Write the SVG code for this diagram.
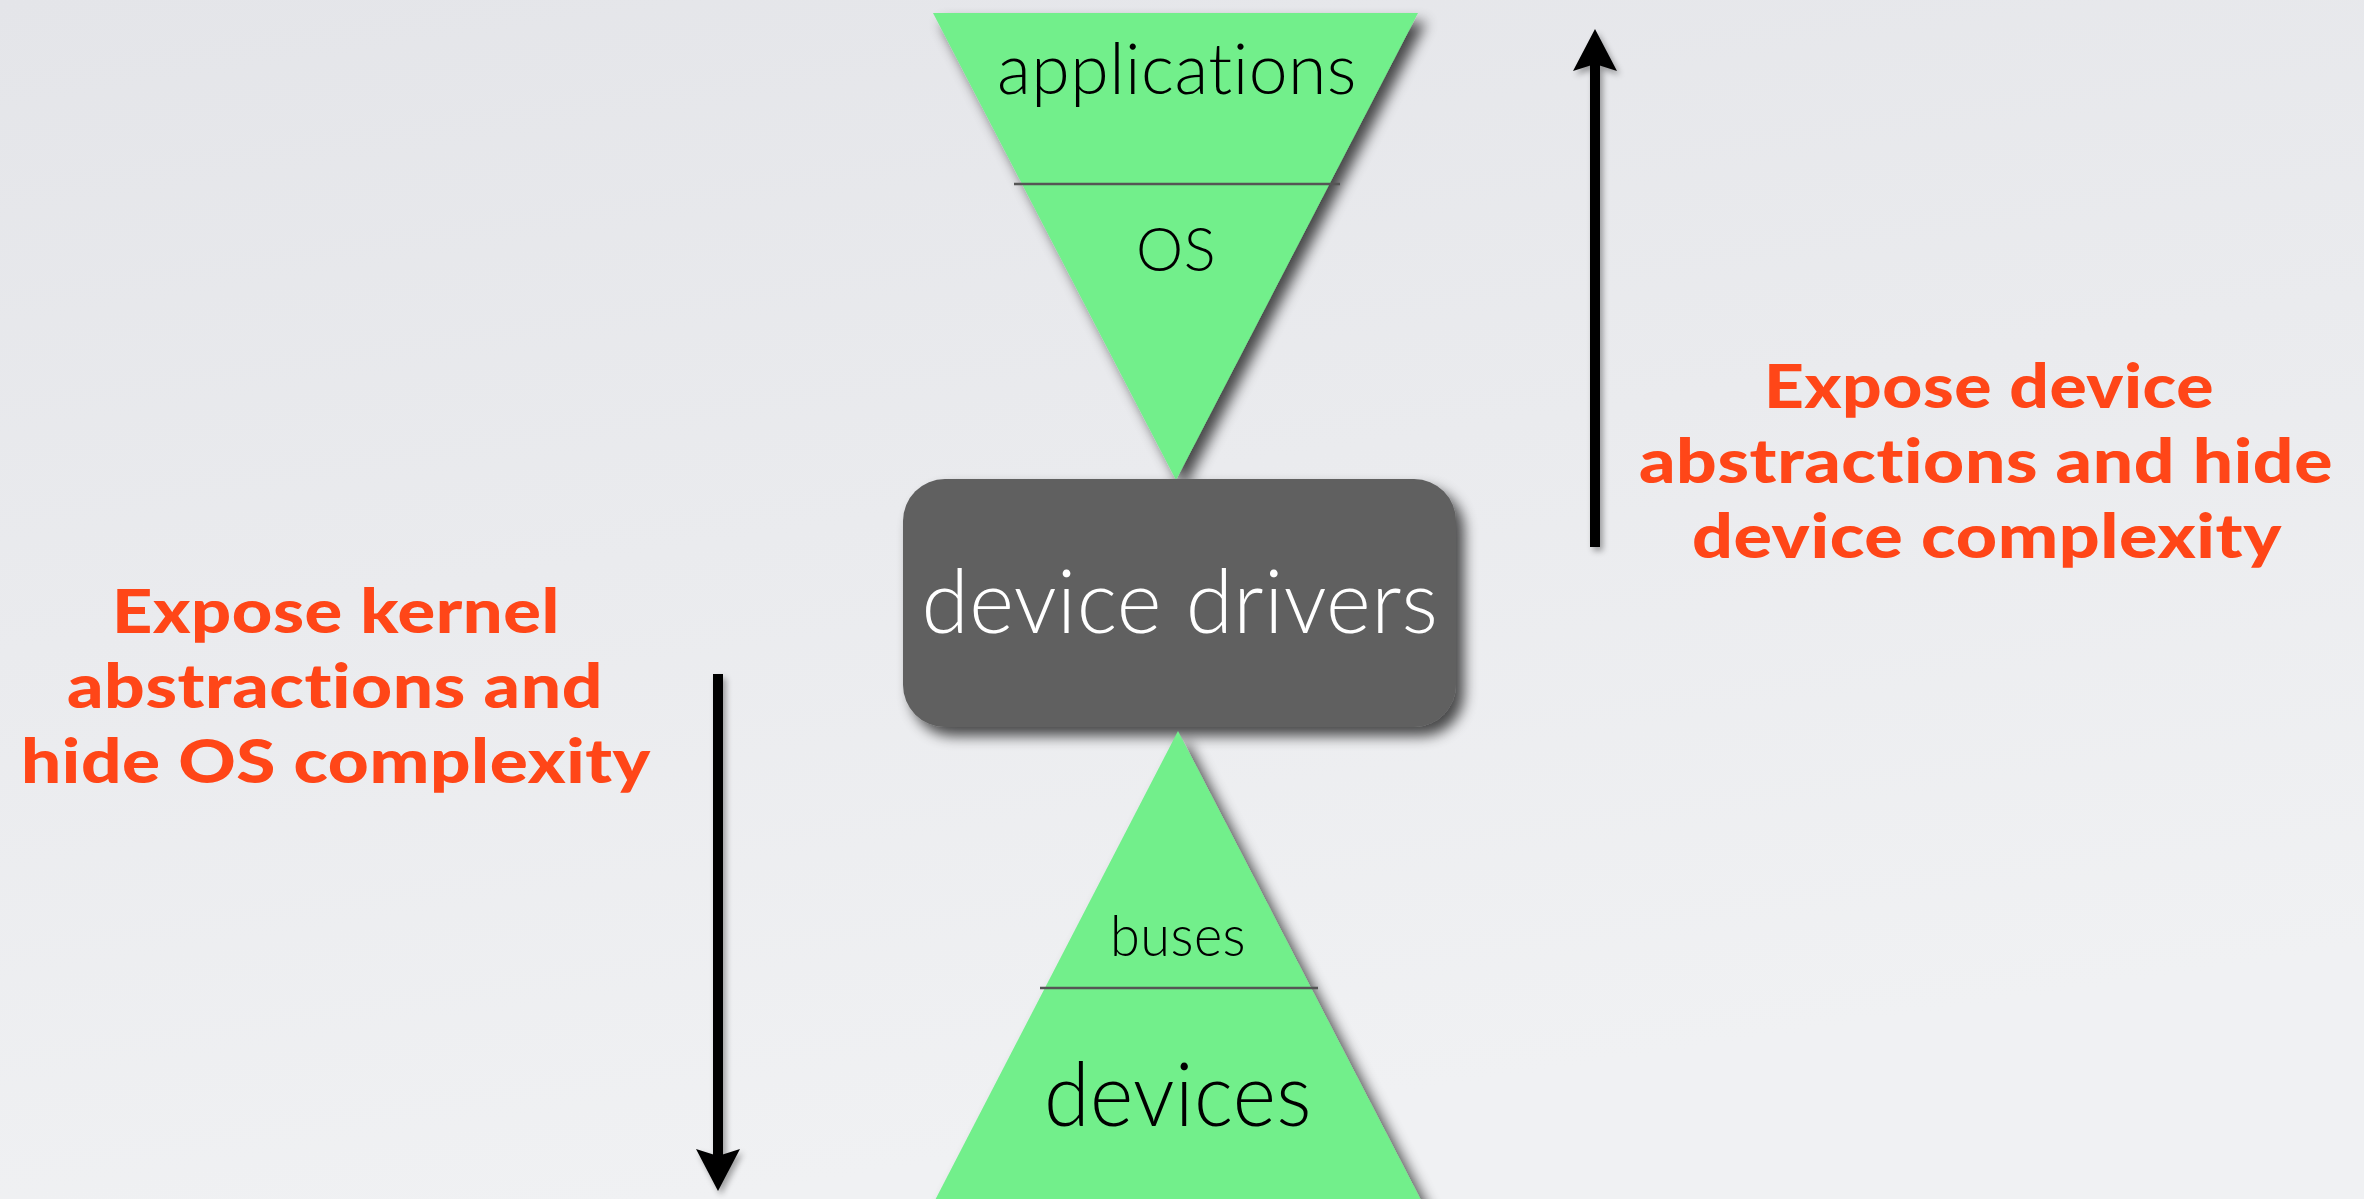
<svg xmlns="http://www.w3.org/2000/svg" width="2364" height="1199" viewBox="0 0 2364 1199">
  <defs>
    <linearGradient id="bg" x1="0" y1="0" x2="0.3" y2="1">
      <stop offset="0" stop-color="#e4e5e9"/>
      <stop offset="1" stop-color="#f0f1f3"/>
    </linearGradient>
    <filter id="shadow" x="-20%" y="-20%" width="150%" height="150%">
      <feGaussianBlur in="SourceAlpha" stdDeviation="7"/>
      <feOffset dx="8" dy="9" result="b"/>
      <feComponentTransfer><feFuncA type="linear" slope="0.7"/></feComponentTransfer>
      <feMerge><feMergeNode/><feMergeNode in="SourceGraphic"/></feMerge>
    </filter>
    <filter id="soft" x="-50%" y="-10%" width="200%" height="120%">
      <feGaussianBlur in="SourceAlpha" stdDeviation="3"/>
      <feOffset dx="3" dy="4"/>
      <feComponentTransfer><feFuncA type="linear" slope="0.35"/></feComponentTransfer>
      <feMerge><feMergeNode/><feMergeNode in="SourceGraphic"/></feMerge>
    </filter>
    <marker id="head" viewBox="0 0 42 44" refX="7" refY="22" markerWidth="42" markerHeight="44" markerUnits="userSpaceOnUse" orient="auto">
      <path d="M0,0 L42,22 L0,44 L7,22 Z" fill="#000"/>
    </marker>
    <style>
      text { font-variant-ligatures: none; font-feature-settings: "liga" 0, "clig" 0, "calt" 0; letter-spacing: 0.5px; }
      .layer { fill: #72ef8b; }
      .divider { stroke: #555; stroke-width: 2.5; }
      .dark { font-family: Lato, "Open Sans", "Liberation Sans", sans-serif; font-weight: 300; fill: #000; text-anchor: middle; }
      .light { font-family: Lato, "Open Sans", "Liberation Sans", sans-serif; font-weight: 300; fill: #fff; text-anchor: middle; }
      .note { font-family: Lato, "Liberation Sans", sans-serif; font-weight: 900; font-size: 60px; fill: #ff4618; text-anchor: middle; }
      .arrow { stroke: #000; stroke-width: 10; fill: none; marker-end: url(#head); }
    </style>
  </defs>

  <rect width="2364" height="1199" fill="url(#bg)"/>

  <!-- upper funnel: applications over OS -->
  <g id="node-applications-os">
    <polygon class="layer" points="933,13 1418,13 1176,480" filter="url(#shadow)"/>
    <line class="divider" x1="1014" y1="184" x2="1340" y2="184"/>
    <text class="dark" x="1177" y="94" font-size="71" textLength="360" lengthAdjust="spacingAndGlyphs">applications</text>
    <text class="dark" x="1176" y="271" font-size="61" textLength="80" lengthAdjust="spacingAndGlyphs">OS</text>
  </g>

  <!-- central driver layer -->
  <g id="node-device-drivers">
    <rect x="903" y="479" width="553" height="248" rx="42" fill="#606060" filter="url(#shadow)"/>
    <text class="light" x="1180" y="633" font-size="88" textLength="517" lengthAdjust="spacingAndGlyphs">device drivers</text>
  </g>

  <!-- lower pyramid: buses over devices -->
  <g id="node-buses-devices">
    <polygon class="layer" points="1178,731 1424,1206 932,1206" filter="url(#shadow)"/>
    <line class="divider" x1="1040" y1="988" x2="1318" y2="988"/>
    <text class="dark" x="1178" y="956" font-size="58" textLength="136" lengthAdjust="spacingAndGlyphs">buses</text>
    <text class="dark" x="1178" y="1126" font-size="89" textLength="268" lengthAdjust="spacingAndGlyphs">devices</text>
  </g>

  <!-- direction arrows -->
  <g id="connectors" filter="url(#soft)">
    <line class="arrow" x1="1595" y1="547" x2="1595" y2="64"/>
    <line class="arrow" x1="718" y1="674" x2="718" y2="1156"/>
  </g>

  <!-- side notes -->
  <g id="note-kernel">
    <text class="note" x="336" y="633" textLength="448" lengthAdjust="spacingAndGlyphs">Expose kernel</text>
    <text class="note" x="335" y="708" textLength="536" lengthAdjust="spacingAndGlyphs">abstractions and</text>
    <text class="note" x="336" y="783" textLength="630" lengthAdjust="spacingAndGlyphs">hide OS complexity</text>
  </g>
  <g id="note-device">
    <text class="note" x="1989" y="408" textLength="450" lengthAdjust="spacingAndGlyphs">Expose device</text>
    <text class="note" x="1986" y="483" textLength="694" lengthAdjust="spacingAndGlyphs">abstractions and hide</text>
    <text class="note" x="1987" y="558" textLength="590" lengthAdjust="spacingAndGlyphs">device complexity</text>
  </g>
</svg>
